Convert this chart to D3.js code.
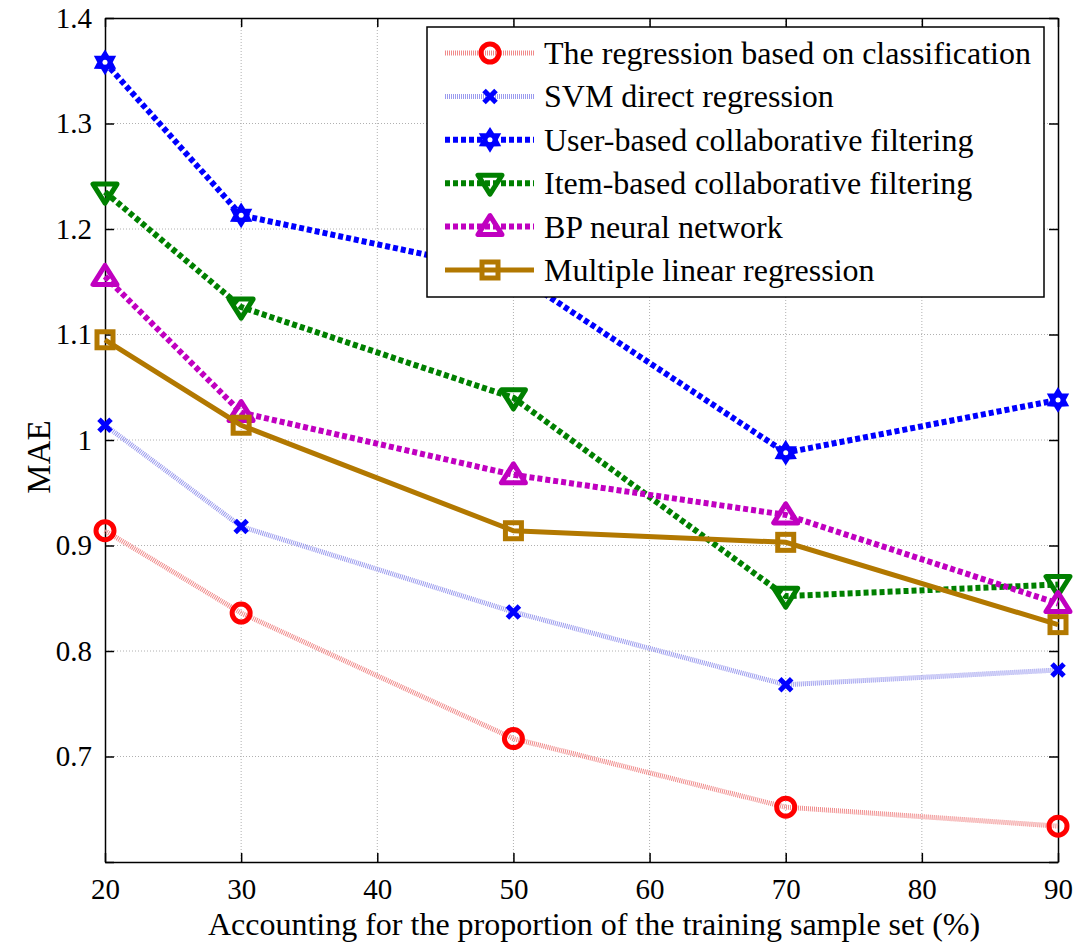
<html>
  <head>
    <style>
      body { margin: 0; background: #fff; }
      text { font-family: "Liberation Serif", "Times New Roman", serif; fill: #000; }
    </style>
  </head>
  <body>
    <svg id="container" width="1090" height="943"></svg>
  </body>
  <script src="https://cdn.jsdelivr.net/npm/d3@7"></script>
  <script>
    // training proportion (%)
    const xVals = [20, 30, 50, 70, 90];
    const xTicks = [20, 30, 40, 50, 60, 70, 80, 90];
    const yTicks = [0.6, 0.7, 0.8, 0.9, 1.0, 1.1, 1.2, 1.3, 1.4];

    const seriesNames = [
      "The regression based on classification",
      "SVM direct regression",
      "User-based collaborative filtering",
      "Item-based collaborative filtering",
      "BP neural network",
      "Multiple linear regression"
    ];
    const classReg = [0.914, 0.836, 0.717, 0.652, 0.634];
    const svmReg = [1.014, 0.918, 0.837, 0.768, 0.782];
    const userCF = [1.358, 1.213, 1.158, 0.988, 1.038];
    const itemCF = [1.235, 1.126, 1.040, 0.852, 0.863];
    const bpNN = [1.155, 1.026, 0.967, 0.929, 0.845];
    const mlr = [1.095, 1.014, 0.914, 0.903, 0.825];

    const styles = [
      { color: "#ff0000", line: "#f08a8a", width: 5, dash: "1,1", marker: "circle" },
      { color: "#0000ff", line: "#9a9aee", width: 5, dash: "1,1", marker: "x" },
      { color: "#0000ff", line: "#0000ff", width: 6, dash: "5,3", marker: "hexagram" },
      { color: "#008000", line: "#008000", width: 6, dash: "5,3", marker: "down" },
      { color: "#c000c0", line: "#c000c0", width: 6, dash: "5,3", marker: "up" },
      { color: "#b27800", line: "#b27800", width: 5, dash: null, marker: "square" }
    ];
    const allSeries = [classReg, svmReg, userCF, itemCF, bpNN, mlr];

    const svg = d3.select("#container");
    const pLeft = 105, pRight = 1058, pTop = 18, pBottom = 862;
    const x = d3.scaleLinear().domain([20, 90]).range([pLeft, pRight]);
    const y = d3.scaleLinear().domain([0.6, 1.4]).range([pBottom, pTop]);

    // grid
    const grid = svg.append("g");
    grid.selectAll(".gx").data(xTicks.slice(1, -1)).enter().append("line")
      .attr("x1", d => x(d)).attr("x2", d => x(d)).attr("y1", pTop).attr("y2", pBottom)
      .attr("stroke", "#b0b0b0").attr("stroke-width", 1).attr("stroke-dasharray", "1,2");
    grid.selectAll(".gy").data(yTicks.slice(1, -1)).enter().append("line")
      .attr("y1", d => y(d)).attr("y2", d => y(d)).attr("x1", pLeft).attr("x2", pRight)
      .attr("stroke", "#b0b0b0").attr("stroke-width", 1).attr("stroke-dasharray", "1,2");

    // axes with inward ticks on all four sides
    const fmt = d3.format("~g");
    const axB = svg.append("g").attr("transform", `translate(0,${pBottom})`)
      .call(d3.axisBottom(x).tickValues(xTicks).tickSizeInner(-9).tickSizeOuter(0).tickPadding(16).tickFormat(fmt));
    const axT = svg.append("g").attr("transform", `translate(0,${pTop})`)
      .call(d3.axisTop(x).tickValues(xTicks).tickSizeInner(-9).tickSizeOuter(0).tickFormat(""));
    const axL = svg.append("g").attr("transform", `translate(${pLeft},0)`)
      .call(d3.axisLeft(y).tickValues(yTicks).tickSizeInner(-9).tickSizeOuter(0).tickPadding(13)
        .tickFormat(d => d < 0.65 ? "" : fmt(d)));
    const axR = svg.append("g").attr("transform", `translate(${pRight},0)`)
      .call(d3.axisRight(y).tickValues(yTicks).tickSizeInner(-9).tickSizeOuter(0).tickFormat(""));
    [axB, axT, axL, axR].forEach(a => {
      a.select(".domain").attr("stroke", "#000").attr("stroke-width", 1.5);
      a.selectAll(".tick line").attr("stroke", "#000").attr("stroke-width", 1.5);
      a.selectAll("text").style("font-family", "Liberation Serif").style("font-size", "29px").attr("fill", "#000");
    });

    // axis titles
    svg.append("text")
      .attr("x", 594).attr("y", 935)
      .attr("text-anchor", "middle").style("font-size", "32px")
      .text("Accounting for the proportion of the training sample set (%)");
    svg.append("text")
      .attr("transform", "translate(50,457) rotate(-90)")
      .attr("text-anchor", "middle").style("font-size", "33px")
      .text("MAE");

    function hexagram(r) {
      const pts = [];
      for (let i = 0; i < 12; i++) {
        const a = Math.PI / 6 * i - Math.PI / 2;
        const rr = i % 2 === 0 ? r : r * 0.6;
        pts.push([rr * Math.cos(a), rr * Math.sin(a)]);
      }
      return "M" + pts.join("L") + "Z";
    }

    function drawMarker(g, type, color) {
      if (type === "circle") {
        g.append("circle").attr("r", 9).attr("fill", "none").attr("stroke", color).attr("stroke-width", 5);
      } else if (type === "x") {
        g.append("path").attr("d", "M-6,-6L6,6M-6,6L6,-6").attr("stroke", color).attr("stroke-width", 5)
          .attr("fill", "none");
      } else if (type === "hexagram") {
        g.append("path").attr("d", hexagram(11)).attr("fill", color).attr("stroke", color).attr("stroke-width", 2);
        g.append("circle").attr("r", 2.5).attr("fill", "#fff");
      } else if (type === "down") {
        g.append("path").attr("d", "M-12,-8L12,-8L0,11Z").attr("fill", "none").attr("stroke", color)
          .attr("stroke-width", 5).attr("stroke-linejoin", "round");
      } else if (type === "up") {
        g.append("path").attr("d", "M-12,8L12,8L0,-11Z").attr("fill", "none").attr("stroke", color)
          .attr("stroke-width", 5).attr("stroke-linejoin", "round");
      } else if (type === "square") {
        g.append("rect").attr("x", -8).attr("y", -8).attr("width", 16).attr("height", 16)
          .attr("fill", "none").attr("stroke", color).attr("stroke-width", 5);
      }
    }

    const line = d3.line().x(d => x(d[0])).y(d => y(d[1]));

    allSeries.forEach((vals, i) => {
      const st = styles[i];
      const pts = xVals.map((v, j) => [v, vals[j]]);
      const g = svg.append("g");
      g.append("path").datum(pts).attr("d", line).attr("fill", "none")
        .attr("stroke", st.line).attr("stroke-width", st.width)
        .attr("stroke-dasharray", st.dash);
      pts.forEach(p => {
        drawMarker(g.append("g").attr("transform", `translate(${x(p[0])},${y(p[1])})`), st.marker, st.color);
      });
    });

    // legend
    const lg = svg.append("g").attr("transform", "translate(427,27)");
    lg.append("rect").attr("width", 617).attr("height", 270).attr("fill", "#fff")
      .attr("stroke", "#000").attr("stroke-width", 1.5);
    seriesNames.forEach((name, i) => {
      const st = styles[i];
      const cy = 26 + i * 43.4;
      lg.append("line").attr("x1", 18).attr("x2", 107).attr("y1", cy).attr("y2", cy)
        .attr("stroke", st.line).attr("stroke-width", st.width).attr("stroke-dasharray", st.dash);
      drawMarker(lg.append("g").attr("transform", `translate(63,${cy})`), st.marker, st.color);
      lg.append("text").attr("x", 117).attr("y", cy + 11)
        .style("font-size", "32px").text(name);
    });
  </script>
</html>
